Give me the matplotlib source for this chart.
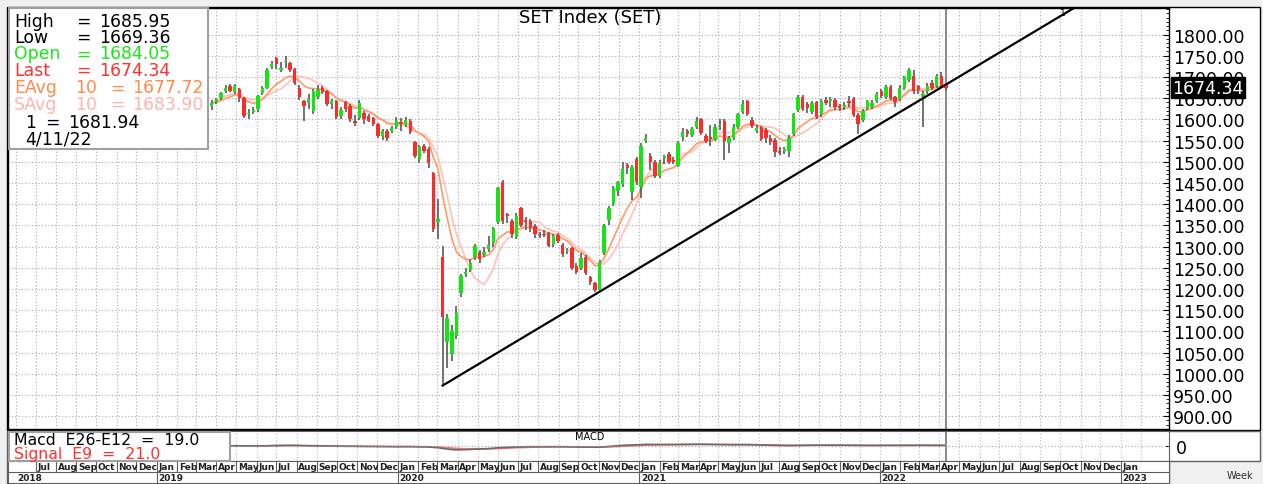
import numpy as np
import pandas as pd
import matplotlib
matplotlib.use("Agg")
import matplotlib.pyplot as plt
from matplotlib.patches import Rectangle
from datetime import date

# === Weekly SET candles (week starting 25 Mar 2019) === #
start_week = date(2019, 3, 25)

opens = [1632, 1640, 1650, 1666, 1678, 1665, 1671, 1650, 1612, 1617,
         1624, 1662, 1675, 1723, 1745, 1716, 1735, 1732, 1719, 1675,
         1642, 1638, 1620, 1652, 1675, 1667, 1636, 1642, 1608, 1640,
         1632, 1594, 1602, 1616, 1608, 1602, 1589, 1560, 1573, 1573,
         1583, 1594, 1587, 1597, 1547, 1506, 1538, 1530, 1473, 1357,
         1275, 1075, 1046, 1090, 1190, 1234, 1245, 1275, 1288, 1281,
         1294, 1308, 1357, 1451, 1374, 1361, 1322, 1390, 1362, 1359,
         1348, 1328, 1328, 1331, 1306, 1327, 1304, 1289, 1296, 1255,
         1249, 1275, 1227, 1214, 1198, 1285, 1362, 1400, 1430, 1447,
         1492, 1429, 1506, 1440, 1550, 1513, 1499, 1467, 1509, 1518,
         1505, 1491, 1559, 1573, 1564, 1583, 1601, 1561, 1556, 1552,
         1581, 1597, 1544, 1556, 1583, 1618, 1642, 1599, 1573, 1581,
         1575, 1557, 1551, 1523, 1526, 1526, 1565, 1622, 1653, 1636,
         1617, 1640, 1612, 1646, 1644, 1646, 1629, 1628, 1641, 1648,
         1610, 1598, 1627, 1630, 1642, 1666, 1653, 1677, 1652, 1648,
         1675, 1693, 1703, 1678, 1652, 1667, 1685, 1679, 1703, 1684.05]

highs = [1645, 1650, 1665, 1680, 1683, 1683, 1675, 1652, 1625, 1630,
         1658, 1678, 1720, 1738, 1748, 1735, 1750, 1736, 1722, 1680,
         1645, 1660, 1672, 1680, 1678, 1670, 1648, 1645, 1630, 1644,
         1636, 1610, 1645, 1620, 1612, 1605, 1592, 1578, 1576, 1585,
         1605, 1603, 1606, 1600, 1550, 1540, 1542, 1534, 1476, 1412,
         1302, 1140, 1115, 1160, 1235, 1250, 1270, 1306, 1292, 1298,
         1325, 1346, 1440, 1456, 1380, 1365, 1378, 1393, 1370, 1364,
         1352, 1334, 1340, 1335, 1330, 1333, 1308, 1296, 1300, 1260,
         1285, 1280, 1230, 1216, 1268, 1352, 1395, 1442, 1455, 1500,
         1497, 1492, 1510, 1545, 1565, 1520, 1503, 1503, 1516, 1522,
         1510, 1548, 1580, 1578, 1582, 1605, 1604, 1565, 1587, 1590,
         1600, 1600, 1560, 1588, 1616, 1645, 1646, 1606, 1586, 1585,
         1580, 1562, 1555, 1535, 1534, 1562, 1616, 1658, 1657, 1640,
         1642, 1644, 1648, 1652, 1652, 1650, 1636, 1640, 1656, 1652,
         1614, 1624, 1646, 1645, 1664, 1672, 1681, 1680, 1656, 1680,
         1703, 1720, 1716, 1682, 1667, 1686, 1692, 1706, 1712, 1685.95]

lows = [1622, 1636, 1645, 1663, 1664, 1660, 1640, 1603, 1600, 1612,
        1618, 1658, 1672, 1718, 1718, 1712, 1722, 1712, 1680, 1645,
        1596, 1625, 1612, 1648, 1660, 1632, 1625, 1600, 1600, 1618,
        1593, 1585, 1598, 1590, 1593, 1585, 1555, 1552, 1550, 1568,
        1578, 1572, 1583, 1565, 1508, 1498, 1520, 1485, 1335, 1318,
        972, 1013, 1030, 1082, 1180, 1228, 1240, 1268, 1260, 1275,
        1288, 1300, 1352, 1352, 1355, 1320, 1318, 1345, 1340, 1335,
        1320, 1320, 1322, 1298, 1300, 1308, 1276, 1283, 1245, 1236,
        1245, 1233, 1210, 1192, 1194, 1280, 1350, 1395, 1420, 1440,
        1470, 1410, 1445, 1415, 1545, 1480, 1462, 1462, 1495, 1495,
        1494, 1487, 1548, 1558, 1558, 1578, 1562, 1545, 1536, 1548,
        1575, 1505, 1520, 1552, 1578, 1612, 1608, 1580, 1568, 1550,
        1545, 1540, 1510, 1515, 1518, 1510, 1560, 1618, 1620, 1615,
        1612, 1600, 1606, 1634, 1630, 1622, 1620, 1622, 1630, 1605,
        1566, 1594, 1622, 1625, 1638, 1650, 1648, 1646, 1629, 1644,
        1670, 1688, 1660, 1660, 1581, 1660, 1668, 1675, 1675, 1669.36]

closes = [1638, 1648, 1661, 1675, 1667, 1679, 1650, 1608, 1614, 1621,
          1654, 1674, 1716, 1730, 1730, 1720, 1737, 1716, 1685, 1652,
          1632, 1648, 1667, 1668, 1664, 1636, 1643, 1606, 1622, 1624,
          1600, 1592, 1638, 1601, 1597, 1589, 1560, 1573, 1557, 1579,
          1595, 1589, 1599, 1569, 1514, 1535, 1526, 1496, 1341, 1366,
          1133, 1131, 1101, 1142, 1230, 1241, 1261, 1302, 1271, 1287,
          1304, 1343, 1437, 1359, 1372, 1329, 1373, 1351, 1357, 1343,
          1329, 1326, 1326, 1302, 1324, 1314, 1282, 1291, 1249, 1241,
          1272, 1238, 1217, 1198, 1263, 1348, 1390, 1437, 1451, 1483,
          1484, 1487, 1451, 1538, 1557, 1499, 1467, 1496, 1511, 1500,
          1499, 1544, 1571, 1565, 1577, 1597, 1567, 1550, 1554, 1583,
          1585, 1550, 1555, 1583, 1612, 1636, 1612, 1585, 1579, 1554,
          1555, 1546, 1524, 1521, 1530, 1557, 1612, 1653, 1625, 1627,
          1638, 1605, 1644, 1638, 1648, 1628, 1627, 1634, 1639, 1610,
          1589, 1619, 1642, 1638, 1660, 1656, 1677, 1651, 1640, 1675,
          1699, 1716, 1667, 1670, 1660, 1679, 1675, 1703, 1679, 1674.34]

# trendline "1": from the March 2020 low to today's value
trend_start = (50, 972.0)
trend_now = (159, 1681.94)

legend_rows = [("High", "", "1685.95", "black"),
               ("Low", "", "1669.36", "black"),
               ("Open", "", "1684.05", "#18e818"),
               ("Last", "", "1674.34", "#ff3030"),
               ("EAvg", "10", "1677.72", "#ff8a4a"),
               ("SAvg", "10", "1683.90", "#ffb4ac")]
price_ticks = np.arange(900, 1801, 50)

W, H = 1263, 485
fig = plt.figure(figsize=(W / 100, H / 100), dpi=100, facecolor='#f0f0f0')


def fbox(x0, y0, x1, y1):
    # pixel box (top-left origin) -> figure fraction [l, b, w, h]
    return [x0 / W, 1 - y1 / H, (x1 - x0) / W, (y1 - y0) / H]


def frect(x0, y0, x1, y1, **kw):
    r = Rectangle((x0 / W, 1 - y1 / H), (x1 - x0) / W, (y1 - y0) / H,
                  transform=fig.transFigure, **kw)
    fig.add_artist(r)


# outer frames (price panel incl. labels, macd panel)
frect(7, 8, 1260, 431, facecolor='white', edgecolor='black', lw=1, zorder=0)
frect(7, 432, 1260, 462, facecolor='white', edgecolor='#606060', lw=1, zorder=0)
frect(7, 462, 1169, 484, facecolor='white', edgecolor='#606060', lw=1, zorder=0)

ax = fig.add_axes(fbox(8, 9, 1169, 430))
axm = fig.add_axes(fbox(8, 432, 1169, 462))
axd = fig.add_axes(fbox(8, 462, 1169, 484))
for a in (ax, axm, axd):
    a.set_facecolor('white')
    a.set_xlim(-44.1, 207.3)

# month / year positions in week units
months = pd.date_range("2018-06-01", "2023-02-01", freq="MS")
month_x = np.array((months - pd.Timestamp(start_week)).days) / 7.0

# === Price panel === #
x = np.arange(len(closes))
o = np.array(opens, dtype=float)
c = np.array(closes, dtype=float)
up = c >= o
body_lo = np.minimum(o, c)
body_h = np.maximum(np.abs(c - o), 3.5)

ax.vlines(x, lows, highs, color='#5a5a5a', lw=1.2, zorder=3)
ax.bar(x[up], body_h[up], bottom=body_lo[up], width=0.74, color='#14e614', lw=0, zorder=4)
ax.bar(x[~up], body_h[~up], bottom=body_lo[~up], width=0.74, color='#ff2b2b', lw=0, zorder=4)

s = pd.Series(closes, dtype=float)
ema10 = s.ewm(span=10, adjust=False).mean()
sma10 = s.rolling(10, min_periods=1).mean()
ax.plot(x, sma10, color='#ffc4bc', lw=1.3, zorder=2)
ax.plot(x, ema10, color='#ff9a66', lw=1.2, zorder=2)

slope = (trend_now[1] - trend_start[1]) / (trend_now[0] - trend_start[0])
tx = np.array([trend_start[0], 190.0])
ax.plot(tx, trend_start[1] + slope * (tx - trend_start[0]), color='black', lw=1.6, zorder=5)
ax.text(184.3, 1853, "1", fontsize=6.5, ha='center', va='center', zorder=6)

ax.axvline(159, color='#8c8c8c', lw=1.5, zorder=1)

ax.set_ylim(869.6, 1862.5)
ax.set_yticks(price_ticks)
ax.set_yticklabels([f"{v:.2f}" for v in price_ticks])
ax.set_yticks(np.arange(870, 1861, 10), minor=True)
ax.yaxis.tick_right()
ax.tick_params(axis='y', which='major', direction='in', length=4, pad=3,
               labelsize=12.5, colors='black')
ax.tick_params(axis='y', which='minor', direction='in', length=2)
ax.set_xticks(month_x)
ax.tick_params(axis='x', length=0, labelbottom=False)
ax.grid(True, linestyle=(0, (1, 2)), color='#a8a8a8', lw=0.8)
ax.set_axisbelow(True)
for sp in ax.spines.values():
    sp.set_color('black')
    sp.set_linewidth(1)

ax.text(1.0025, 1674.34, "1674.34", transform=ax.get_yaxis_transform(),
        fontsize=12.5, color='white', ha='left', va='center', zorder=8,
        bbox=dict(boxstyle='square,pad=0.08', facecolor='black', edgecolor='black'),
        clip_on=False)
fig.text(590 / W, 1 - 18 / H, "SET Index (SET)", fontsize=13, ha='center', va='center')

# legend box
frect(9, 9, 208, 150, facecolor='white', edgecolor='#a0a0a0', lw=1.5, zorder=10)
row_y = [21.7, 37.7, 54.3, 71, 88.3, 105]
for (name, per, val, col), yy in zip(legend_rows, row_y):
    fy = 1 - yy / H
    fig.text(14 / W, fy, name, color=col, fontsize=12.4, va='center', zorder=11)
    if per:
        fig.text(75 / W, fy, per, color=col, fontsize=12.4, va='center', zorder=11)
        fig.text(110 / W, fy, "=", color=col, fontsize=12.4, va='center', zorder=11)
        fig.text(132 / W, fy, val, color=col, fontsize=12.4, va='center', zorder=11)
    else:
        fig.text(76 / W, fy, "=", color=col, fontsize=12.4, va='center', zorder=11)
        fig.text(99 / W, fy, val, color=col, fontsize=12.4, va='center', zorder=11)
fig.text(25 / W, 1 - 122.7 / H, "1", fontsize=12.4, va='center', zorder=11)
fig.text(45 / W, 1 - 122.7 / H, "=", fontsize=12.4, va='center', zorder=11)
fig.text(68 / W, 1 - 122.7 / H, "1681.94", fontsize=12.4, va='center', zorder=11)
fig.text(25 / W, 1 - 139.3 / H, "4/11/22", fontsize=12.4, va='center', zorder=11)

# === MACD panel === #
ema12 = s.ewm(span=12, adjust=False).mean()
ema26 = s.ewm(span=26, adjust=False).mean()
macd = ema12 - ema26
signal = macd.ewm(span=9, adjust=False).mean()
axm.plot(x, signal, color='#ff7070', lw=1.2)
axm.plot(x, macd, color='#6a6a6a', lw=1.2)
axm.axhline(0, color='#a0a0a0', lw=0.8, linestyle=(0, (1, 2)))
axm.axvline(159, color='#8c8c8c', lw=1.5)
axm.set_ylim(-480, 480)
axm.set_yticks([0])
axm.set_yticklabels(["0"])
axm.yaxis.tick_right()
axm.tick_params(axis='y', direction='in', length=3, pad=5, labelsize=12.5)
axm.set_xticks(month_x)
axm.tick_params(axis='x', length=0, labelbottom=False)
axm.grid(True, axis='x', linestyle=(0, (1, 2)), color='#b8b8b8', lw=0.8)
for sp in axm.spines.values():
    sp.set_color('#606060')
fig.text(590 / W, 1 - 437 / H, "MACD", fontsize=7, ha='center', va='center')

frect(9, 433, 230, 461.5, facecolor='white', edgecolor='#a0a0a0', lw=1.5, zorder=10)
fig.text(14 / W, 1 - 440.5 / H, "Macd  E26-E12  =  19.0", fontsize=11.3, va='center', zorder=11)
fig.text(14 / W, 1 - 455 / H, "Signal  E9  =  21.0", fontsize=11.3, color='#ff3030',
         va='center', zorder=11)

# === Date axis === #
axd.set_ylim(0, 1)
axd.set_xticks([])
axd.set_yticks([])
for sp in axd.spines.values():
    sp.set_color('#606060')
axd.axhline(0.5, color='#606060', lw=0.8)
for d, mx in zip(months, month_x):
    if d < pd.Timestamp("2018-07-01") or d > pd.Timestamp("2023-01-01"):
        continue
    axd.vlines(mx, 0.5, 1, color='#606060', lw=0.8)
    axd.text(mx + 0.35, 0.74, d.strftime("%b"), fontsize=6.5, fontweight='bold',
             ha='left', va='center', color='#202020')
    if d.month == 1:
        axd.vlines(mx, 0, 0.5, color='#606060', lw=0.8)
        axd.text(mx + 0.35, 0.24, str(d.year), fontsize=6.5, fontweight='bold',
                 ha='left', va='center', color='#202020')
axd.text(-42.2, 0.24, "2018", fontsize=6.5, fontweight='bold', ha='left', va='center',
         color='#202020')
fig.text(1240 / W, 1 - 476 / H, "Week", fontsize=7, ha='center', va='center',
         color='#303030')

fig.savefig("out.png", dpi=100, facecolor=fig.get_facecolor())
